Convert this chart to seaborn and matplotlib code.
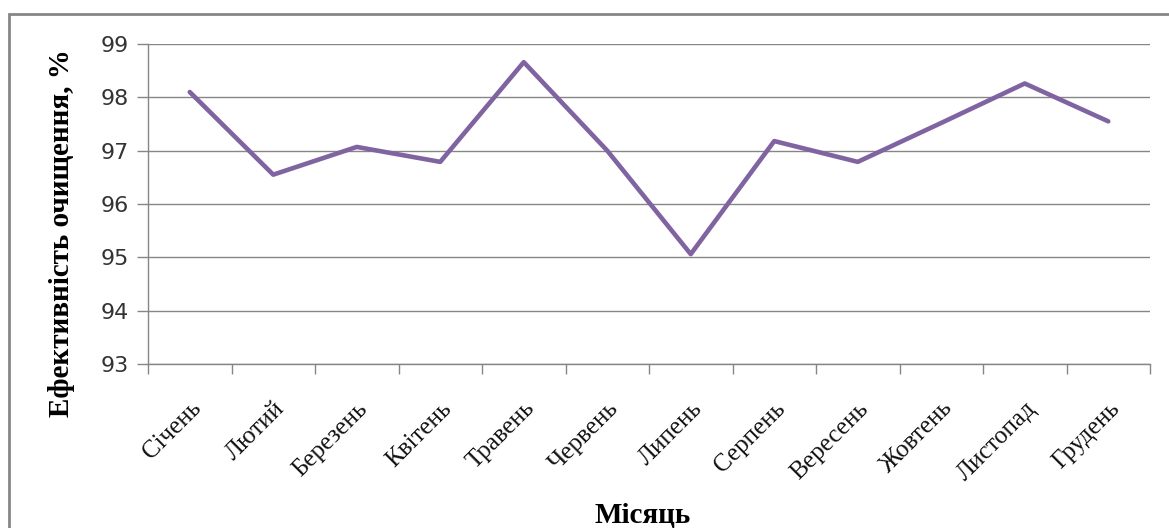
import matplotlib
matplotlib.use("Agg")
import matplotlib.pyplot as plt
from matplotlib.patches import Rectangle
import numpy as np
import pandas as pd
import seaborn as sns

# Monthly treatment efficiency
months = ["Січень", "Лютий", "Березень", "Квітень", "Травень", "Червень",
          "Липень", "Серпень", "Вересень", "Жовтень", "Листопад", "Грудень"]
efficiency = [98.1, 96.55, 97.07, 96.79, 98.66, 97.0,
              95.06, 97.18, 96.79, 97.52, 98.26, 97.55]
y_ticks = [93, 94, 95, 96, 97, 98, 99]

df = pd.DataFrame({"month": months, "eff": efficiency})
df["pos"] = np.arange(len(months))

sns.set_theme(style="white")
plt.rcParams["font.family"] = ["DejaVu Sans"]

fig = plt.figure(figsize=(11.69, 5.28), dpi=100)
ax = fig.add_axes([148 / 1169, 1 - 364 / 528, (1150 - 148) / 1169, (364 - 44) / 528])

# outer chart frame
fig.patches.append(Rectangle((9 / 1169, -0.1), 1.2, 1 - 14 / 528 + 0.1,
                             transform=fig.transFigure, fill=False,
                             edgecolor="#868686", linewidth=2, zorder=0))

sns.lineplot(data=df, x="pos", y="eff", sort=False, color="#8064A2",
             linewidth=3.3, ax=ax, zorder=3)

grid_c = "#868686"
ax.set_ylim(93, 99)
ax.set_yticks(y_ticks)
ax.set_yticklabels([str(v) for v in y_ticks], fontsize=16, color="#333333")
ax.yaxis.grid(True, color=grid_c, linewidth=1.0)
ax.tick_params(axis="y", length=8, width=1, color=grid_c, pad=6, left=True)

ax.set_xlim(-0.5, len(months) - 0.5)
ax.set_xticks(df["pos"])
ax.set_xticklabels(months, rotation=45, ha="right", rotation_mode="anchor",
                   fontsize=18, family="Liberation Serif", color="#111111")
ax.tick_params(axis="x", which="major", length=0, pad=24)
ax.set_xticks(np.arange(-0.5, len(months), 1.0), minor=True)
ax.tick_params(axis="x", which="minor", length=7, width=1, color=grid_c, bottom=True)

for side in ["top", "right"]:
    ax.spines[side].set_visible(False)
for side in ["left", "bottom"]:
    ax.spines[side].set_color(grid_c)
    ax.spines[side].set_linewidth(1.0)

ax.set_xlabel("")
ax.set_ylabel("")
fig.text(62 / 1169, 1 - 233 / 528, "Ефективність очищення, %", rotation=90,
         ha="center", va="center", fontsize=21, fontweight="bold",
         family="Liberation Serif", color="#000000")
fig.text(643 / 1169, 1 - 515 / 528, "Місяць", ha="center", va="center",
         fontsize=21, fontweight="bold", family="Liberation Serif", color="#000000")

fig.savefig("out.png", dpi=100, facecolor="white")
